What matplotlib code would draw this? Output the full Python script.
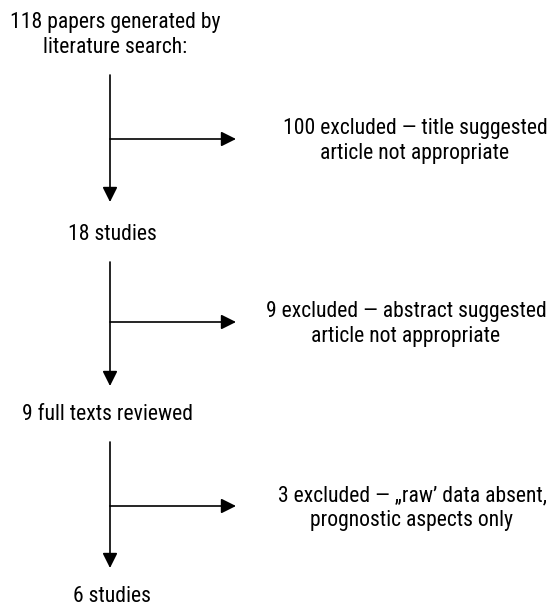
import matplotlib
matplotlib.use("Agg")
import matplotlib.pyplot as plt
from matplotlib.patches import FancyArrowPatch

plt.rcParams['font.family'] = ['Roboto Condensed', 'DejaVu Sans']

# flow stages and exclusions
stage_labels = ["118 papers generated by\nliterature search:", "18 studies",
                "9 full texts reviewed", "6 studies"]
excluded_labels = ["100 excluded \u2014 title suggested\narticle not appropriate",
                   "9 excluded \u2014 abstract suggested\narticle not appropriate",
                   "3 excluded \u2014 \u201eraw\u2019 data absent,\nprognostic aspects only"]

# layout (pixel coordinates)
stage_y = [35, 235, 415, 596]
stage_x = [115, 112, 108, 112]
trunk_x = 110
trunk_top = [75, 262, 442]
trunk_tip = [202, 386, 568]
branch_y = [139, 322, 506]
branch_tip = 236
excl_x = [415, 406, 412]
excl_y = [141, 324, 508]

fig = plt.figure(figsize=(5.54, 6.07), dpi=100)
ax = fig.add_axes([0, 0, 1, 1])
ax.set_xlim(0, 554)
ax.set_ylim(607, 0)
ax.axis('off')

fs = 15.6
for lab, x, y in zip(stage_labels, stage_x, stage_y):
    ax.text(x, y, lab, ha='center', va='center', fontsize=fs, linespacing=1.2)

for i in range(len(excluded_labels)):
    down = FancyArrowPatch((trunk_x, trunk_top[i]), (trunk_x, trunk_tip[i]),
                           arrowstyle='-|>,head_length=0.6,head_width=0.3',
                           mutation_scale=15, lw=1.2, color='black',
                           shrinkA=0, shrinkB=0)
    ax.add_patch(down)
    side = FancyArrowPatch((trunk_x, branch_y[i]), (branch_tip, branch_y[i]),
                           arrowstyle='-|>,head_length=0.6,head_width=0.3',
                           mutation_scale=15, lw=1.2, color='black',
                           shrinkA=0, shrinkB=0)
    ax.add_patch(side)
    ax.text(excl_x[i], excl_y[i], excluded_labels[i], ha='center', va='center',
            fontsize=fs, linespacing=1.2)

fig.savefig("out.png", dpi=100)
